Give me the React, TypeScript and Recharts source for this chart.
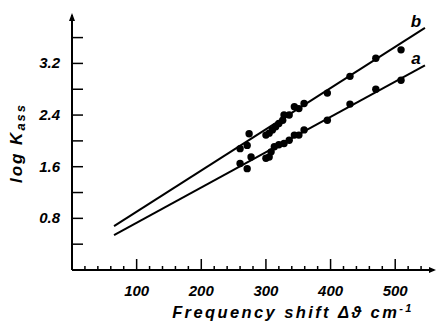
import React from "react";
import {
  ComposedChart,
  Scatter,
  XAxis,
  YAxis,
  ReferenceLine,
  ReferenceDot,
} from "recharts";

// measured points, series b (upper) and a (lower)
const shiftB = [260, 271, 274, 300, 305, 310, 315, 320, 326, 328, 336, 344, 351, 359, 395, 430, 470, 509];
const logKB = [1.88, 1.93, 2.11, 2.09, 2.12, 2.17, 2.22, 2.27, 2.32, 2.4, 2.4, 2.53, 2.5, 2.58, 2.74, 3.0, 3.28, 3.41];
const shiftA = [260, 271, 277, 300, 305, 308, 313, 320, 328, 336, 344, 351, 359, 395, 430, 470, 509];
const logKA = [1.65, 1.57, 1.75, 1.73, 1.75, 1.83, 1.91, 1.94, 1.96, 2.01, 2.09, 2.09, 2.17, 2.32, 2.57, 2.8, 2.94];

// fitted straight lines (start / end)
const fitB = [
  { x: 65, y: 0.68 },
  { x: 546, y: 3.75 },
];
const fitA = [
  { x: 65, y: 0.54 },
  { x: 546, y: 3.17 },
];

const xTicks = [20, 40, 60, 80, 100, 120, 140, 160, 180, 200, 220, 240, 260, 280, 300, 320, 340, 360, 380, 400, 420, 440, 460, 480, 500, 520, 540];
const xLabels = [100, 200, 300, 400, 500];
const yTicks = [0.4, 0.8, 1.2, 1.6, 2.0, 2.4, 2.8, 3.2, 3.6];
const yLabels = [0.8, 1.6, 2.4, 3.2];

const dataB = shiftB.map((x, i) => ({ x, y: logKB[i] }));
const dataA = shiftA.map((x, i) => ({ x, y: logKA[i] }));

const FONT = "'Liberation Sans', Arial, sans-serif";

const XTick = (props: any) => {
  const { x, y, payload } = props;
  const v = payload.value;
  const major = xLabels.includes(v);
  return (
    <g>
      <line x1={x} x2={x} y1={y} y2={y - (major ? 11 : 4)} stroke="#000" strokeWidth={1.5} />
      {major && (
        <text
          x={x}
          y={y + 26}
          textAnchor="middle"
          fontFamily={FONT}
          fontWeight="bold"
          fontStyle="italic"
          fontSize={15}
          fill="#000"
        >
          {v}
        </text>
      )}
    </g>
  );
};

const YTick = (props: any) => {
  const { x, y, payload } = props;
  const v = payload.value;
  const labelled = yLabels.some((l) => Math.abs(l - v) < 1e-6);
  return (
    <g>
      <line x1={x} x2={x + 11} y1={y} y2={y} stroke="#000" strokeWidth={1.5} />
      {labelled && (
        <text
          x={x - 12}
          y={y + 5}
          textAnchor="end"
          fontFamily={FONT}
          fontWeight="bold"
          fontStyle="italic"
          fontSize={15}
          fill="#000"
        >
          {v.toFixed(1)}
        </text>
      )}
    </g>
  );
};

const Dot = (p: any) => <circle cx={p.cx} cy={p.cy} r={3.7} fill="#000" />;

const ArrowRight = (p: any) => (
  <path d={`M${p.cx + 2},${p.cy} L${p.cx - 5},${p.cy - 3} L${p.cx - 5},${p.cy + 3} Z`} fill="#000" />
);
const ArrowUp = (p: any) => (
  <path d={`M${p.cx},${p.cy - 2} L${p.cx - 3},${p.cy + 6} L${p.cx + 3},${p.cy + 6} Z`} fill="#000" />
);

const lineLabel = (t: string) => (p: any) => (
  <text
    x={p.cx}
    y={p.cy + 6}
    textAnchor="middle"
    fontFamily={FONT}
    fontWeight="bold"
    fontStyle="italic"
    fontSize={17}
    fill="#000"
  >
    {t}
  </text>
);

const XLabel = (props: any) => {
  const { viewBox } = props;
  const cx = viewBox.x + viewBox.width / 2 + 40;
  return (
    <text
      x={cx}
      y={viewBox.y + 48}
      textAnchor="middle"
      fontFamily={FONT}
      fontWeight="bold"
      fontStyle="italic"
      fontSize={16.5}
      letterSpacing={2.4}
      fill="#000"
    >
      Frequency shift  Δϑ cm
      <tspan fontSize={11} dy={-6}>-1</tspan>
    </text>
  );
};

const YLabel = (props: any) => {
  const cx = 16;
  const cy = 143;
  return (
    <text
      x={cx}
      y={cy}
      transform={`rotate(-90 ${cx} ${cy})`}
      textAnchor="middle"
      dominantBaseline="central"
      fontFamily={FONT}
      fontWeight="bold"
      fontStyle="italic"
      fontSize={17}
      letterSpacing={2}
      fill="#000"
    >
      log K
      <tspan fontSize={13} dy={4}>ass</tspan>
    </text>
  );
};

export default function App() {
  return (
    <div style={{ position: "absolute", left: 0, top: 0, background: "#fff" }}>
      <ComposedChart
        width={442}
        height={325}
        margin={{ top: 15, right: 8, left: 0, bottom: 0 }}
      >
        <XAxis
          type="number"
          dataKey="x"
          domain={[0, 560]}
          ticks={xTicks}
          interval={0}
          tickSize={0}
          tickMargin={0}
          tickLine={false}
          tick={<XTick />}
          axisLine={{ stroke: "#000", strokeWidth: 2 }}
          height={55}
          label={<XLabel />}
          allowDataOverflow
        />
        <YAxis
          type="number"
          dataKey="y"
          domain={[0, 3.95]}
          ticks={yTicks}
          interval={0}
          tickSize={0}
          tickMargin={0}
          tickLine={false}
          tick={<YTick />}
          axisLine={{ stroke: "#000", strokeWidth: 2 }}
          width={72}
          label={<YLabel />}
          allowDataOverflow
        />
        <ReferenceLine segment={fitB} stroke="#000" strokeWidth={2} ifOverflow="visible" />
        <ReferenceLine segment={fitA} stroke="#000" strokeWidth={2} ifOverflow="visible" />
        <Scatter data={dataB} shape={<Dot />} isAnimationActive={false} />
        <Scatter data={dataA} shape={<Dot />} isAnimationActive={false} />
        <ReferenceDot x={560} y={0} r={0} shape={<ArrowRight />} ifOverflow="visible" />
        <ReferenceDot x={0} y={3.95} r={0} shape={<ArrowUp />} ifOverflow="visible" />
        <ReferenceDot x={532} y={3.86} r={0} shape={lineLabel("b")} ifOverflow="visible" />
        <ReferenceDot x={532} y={3.28} r={0} shape={lineLabel("a")} ifOverflow="visible" />
      </ComposedChart>
    </div>
  );
}
